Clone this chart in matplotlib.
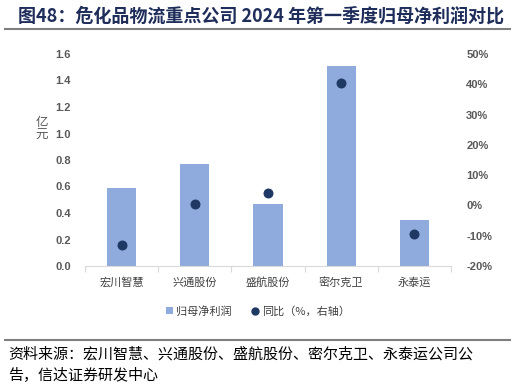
import numpy as np
import matplotlib.pyplot as plt
from matplotlib.lines import Line2D
from matplotlib.patches import Patch

plt.rcParams['font.family'] = ['Noto Sans CJK SC', 'DejaVu Sans']

companies = ["宏川智慧", "兴通股份", "盛航股份", "密尔克卫", "永泰运"]
profit = [0.59, 0.77, 0.47, 1.51, 0.35]        # 亿元
yoy = [-13.0, 0.6, 4.1, 40.4, -9.4]            # %

left_ticks = [0.0, 0.2, 0.4, 0.6, 0.8, 1.0, 1.2, 1.4, 1.6]
right_ticks = [-20, -10, 0, 10, 20, 30, 40, 50]

BAR = "#8FAADC"
DOT = "#1F3864"
GRAY = "#595959"

fig = plt.figure(figsize=(5.16, 3.87), dpi=100)
ax = fig.add_axes([85 / 516, 1 - 266 / 387, 366 / 516, 212 / 387])
ax2 = ax.twinx()

x = np.arange(len(companies))
ax.bar(x, profit, width=0.4, color=BAR, zorder=2)
ax2.scatter(x, yoy, s=38, color=DOT, zorder=3)

ax.set_xlim(-0.5, len(companies) - 0.5)
ax.set_ylim(0, 1.6)
ax.set_yticks(left_ticks)
ax.set_yticklabels([f"{v:.1f}" for v in left_ticks])
ax2.set_ylim(-20, 50)
ax2.set_yticks(right_ticks)
ax2.set_yticklabels([f"{v}%" for v in right_ticks])

ax.set_xticks(x)
ax.set_xticklabels(companies, fontsize=8, color="#404040")
ax.set_xticks(np.arange(-0.5, len(companies)), minor=True)
ax.tick_params(axis="x", which="major", length=0, pad=8)
ax.tick_params(axis="x", which="minor", length=4, color="#D9D9D9", width=0.8)

for a in (ax, ax2):
    for s in ("top", "left", "right"):
        a.spines[s].set_visible(False)
    a.spines["bottom"].set_color("#D9D9D9")
ax2.spines["bottom"].set_visible(False)

ax.tick_params(axis="y", length=0, pad=10, labelsize=8, labelcolor=GRAY)
ax2.tick_params(axis="y", length=0, pad=11, labelsize=8, labelcolor=GRAY)
for lab in ax.get_yticklabels() + ax2.get_yticklabels():
    lab.set_fontweight("bold")
    lab.set_family(["Liberation Sans", "DejaVu Sans"])

fig.text(42 / 516, 1 - 129 / 387, "亿\n元", fontsize=9, color=GRAY,
         ha="center", va="center", linespacing=0.95)

handles = [Patch(facecolor=BAR, edgecolor="none"),
           Line2D([], [], marker="o", linestyle="none", color=DOT, markersize=5)]
fig.legend(handles, ["归母净利润", "同比（%，右轴）"], loc="center",
           bbox_to_anchor=(258 / 516, 1 - 311 / 387), ncol=2, frameon=False,
           fontsize=8, labelcolor="#404040", handlelength=0.6, handleheight=0.6,
           handletextpad=0.3, columnspacing=1.8)

fig.text(18 / 516, 1 - 16 / 387, "图48：危化品物流重点公司 2024 年第一季度归母净利润对比",
         fontsize=13, fontweight="bold", color="#1F2D5A", ha="left", va="center")
fig.add_artist(Line2D([5 / 516, 510 / 516], [1 - 29 / 387, 1 - 29 / 387],
                      color="#7F7F7F", linewidth=1.5))
fig.add_artist(Line2D([5 / 516, 510 / 516], [1 - 340 / 387, 1 - 340 / 387],
                      color="#7F7F7F", linewidth=1.5))
fig.text(8 / 516, 1 - 354 / 387,
         "资料来源：宏川智慧、兴通股份、盛航股份、密尔克卫、永泰运公司公",
         fontsize=10.8, color="#000000", ha="left", va="center")
fig.text(8 / 516, 1 - 375 / 387, "告，信达证券研发中心",
         fontsize=10.8, color="#000000", ha="left", va="center")

fig.savefig("out.png", dpi=100)
